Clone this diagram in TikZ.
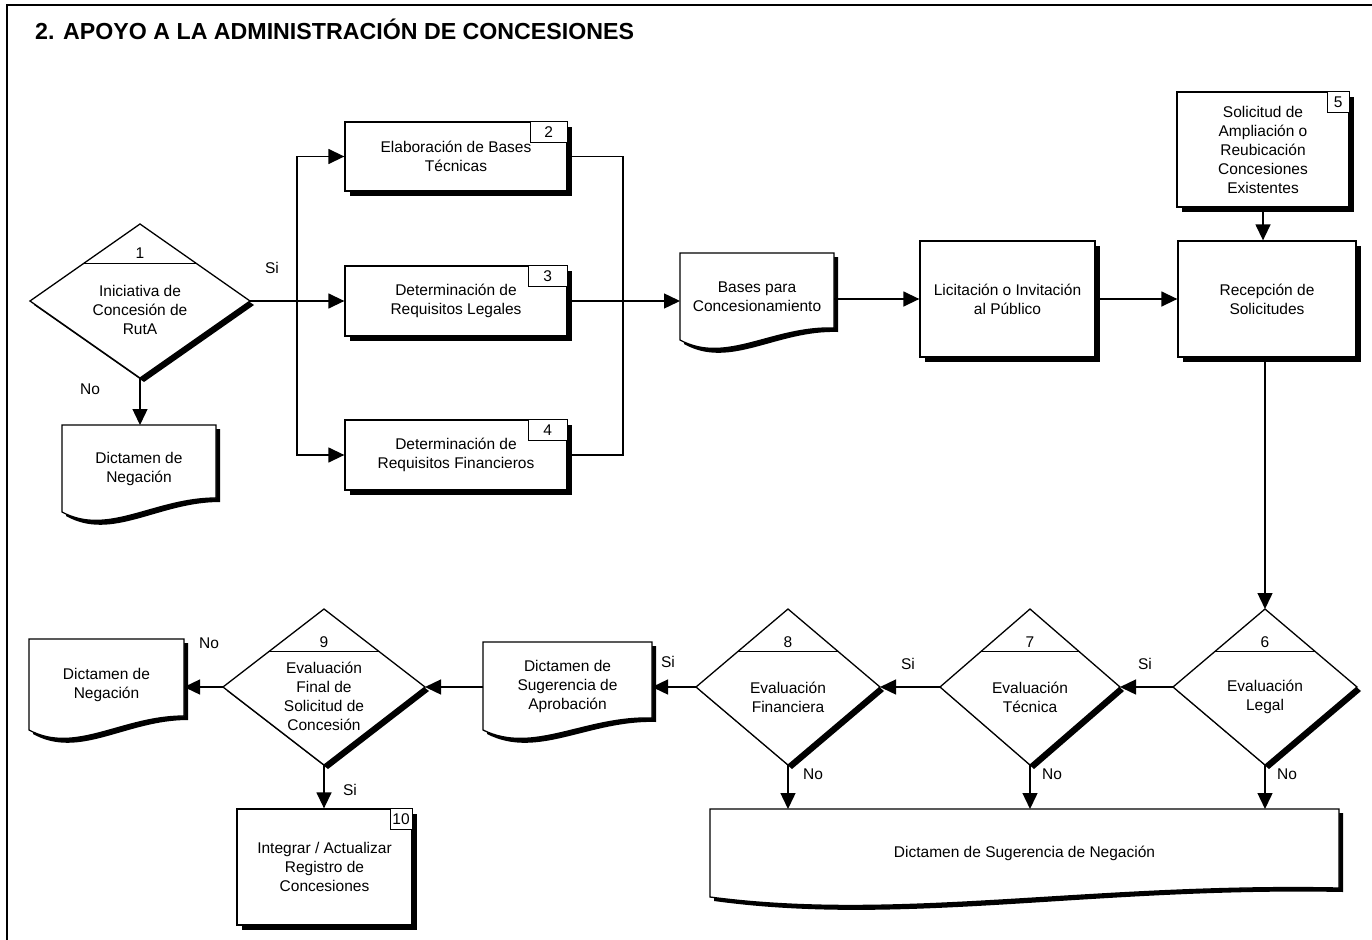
\documentclass[tikz,border=0pt]{standalone}
\usepackage{fontspec}
\setmainfont{Liberation Sans}
\usetikzlibrary{shapes.geometric,arrows.meta,calc,shadows,backgrounds}

\newcommand\bodyfont{\fontsize{15.5}{19}\selectfont}

\tikzset{
  conn/.style={line width=1.4pt},
  arr/.style={conn, -{Triangle[length=16pt,width=15pt]}},
  procbox/.style={draw, line width=1.3pt, fill=white, rectangle, inner sep=2pt,
    align=center, font=\bodyfont,
    drop shadow={shadow xshift=5pt, shadow yshift=-5pt, fill=black, opacity=1}},
  numbox/.style={draw, line width=1.1pt, fill=white, anchor=north east,
    minimum height=21pt, inner sep=0pt, font=\bodyfont},
  decision/.style={draw, diamond, line width=1.3pt, fill=white, inner sep=0pt, outer sep=0pt,
    drop shadow={shadow xshift=4pt, shadow yshift=-4pt, fill=black, opacity=1}},
  doc/.style={rectangle, inner sep=0pt, outer sep=0pt, align=center, font=\bodyfont},
  lbl/.style={font=\bodyfont, inner sep=0pt, align=center},
}

% document symbol: wavy lower edge, black shadow, drawn behind its text
\newcommand\docshape[2]{%
  \begin{pgfonlayer}{background}
  \fill[black] ($(#1.south west)+(4,-4)$)
    .. controls ($(#1.south west)!0.3!(#1.south east)+(4,-30)$)
    and ($(#1.south west)!0.6!(#1.south east)+(4,10)$)
    .. ($(#1.south east)+(4,#2-4)$) -- ($(#1.north east)+(4,-4)$)
    -- ($(#1.north west)+(4,-4)$) -- cycle;
  \draw[line width=1.3pt, fill=white] (#1.south west)
    .. controls ($(#1.south west)!0.3!(#1.south east)+(0,-25)$)
    and ($(#1.south west)!0.6!(#1.south east)+(0,14)$)
    .. ($(#1.south east)+(0,#2)$) -- (#1.north east) -- (#1.north west) -- cycle;
  \end{pgfonlayer}}

% separator line under the step number of a decision
\newcommand\decline[2]{%
  \draw[line width=1.1pt] ($(#1.north)!#2!(#1.west)$) -- ($(#1.north)!#2!(#1.east)$);}

\begin{document}
\begin{tikzpicture}[x=1pt,y=1pt]
\useasboundingbox (0,0) rectangle (1372,-939);

% frame
\draw[line width=2pt] (7,-945) -- (7,-5) -- (1380,-5);

\node[anchor=base west, inner sep=0pt, font=\bfseries\fontsize{23.2}{27}\selectfont] (title) at (35,-40)
  {2. APOYO A LA ADMINISTRACIÓN DE CONCESIONES};

% ---- upper part ----
\node[decision, minimum width=220pt, minimum height=154pt] (d1) at (140,-301) {};
\decline{d1}{0.51}
\node[lbl] (k1) at (140,-253) {1};
\node[lbl] (t1) at (140,-310) {Iniciativa de\\Concesión de\\RutA};

\node[procbox, minimum width=222pt, minimum height=69pt] (box2) at (456,-156.5) {Elaboración de Bases\\Técnicas};
\node[numbox, minimum width=37pt] (n2) at (box2.north east) {2};
\node[procbox, minimum width=222pt, minimum height=70pt] (box3) at (456,-301) {Determinación de\\Requisitos Legales};
\node[numbox, minimum width=39pt] (n3) at (box3.north east) {3};
\node[procbox, minimum width=222pt, minimum height=70pt] (box4) at (456,-455) {Determinación de\\Requisitos Financieros};
\node[numbox, minimum width=39pt] (n4) at (box4.north east) {4};

\node[doc, minimum width=154pt, minimum height=87pt] (neg1) at (139,-468.5) {Dictamen de\\Negación};
\docshape{neg1}{14}
\node[doc, minimum width=154pt, minimum height=87pt] (bases) at (757,-296.5) {Bases para\\Concesionamiento};
\docshape{bases}{12}

\node[procbox, minimum width=175pt, minimum height=116pt] (lic) at (1007.5,-299) {Licitación o Invitación\\al Público};
\node[procbox, minimum width=178pt, minimum height=116pt] (rec) at (1267,-299) {Recepción de\\Solicitudes};
\node[procbox, minimum width=172pt, minimum height=115pt] (box5) at (1263,-149.5)
  {Solicitud de\\Ampliación o\\Reubicación\\Concesiones\\Existentes};
\node[numbox, minimum width=22pt] (n5) at (box5.north east) {5};

% ---- lower part ----
\node[decision, minimum width=184pt, minimum height=156pt] (d6) at (1265,-687) {};
\decline{d6}{0.54}
\node[lbl] (k6) at (1265,-642) {6};
\node[lbl] (t6) at (1265,-697) {Evaluación\\Legal};

\node[decision, minimum width=180pt, minimum height=156pt] (d7) at (1030,-687) {};
\decline{d7}{0.54}
\node[lbl] (k7) at (1030,-642) {7};
\node[lbl] (t7) at (1030,-697) {Evaluación\\Técnica};

\node[decision, minimum width=184pt, minimum height=156pt] (d8) at (788,-687) {};
\decline{d8}{0.54}
\node[lbl] (k8) at (788,-642) {8};
\node[lbl] (t8) at (788,-697) {Evaluación\\Financiera};

\node[doc, minimum width=169pt, minimum height=88pt] (aprob) at (567.5,-686) {Dictamen de\\Sugerencia de\\Aprobación};
\docshape{aprob}{12}

\node[decision, minimum width=202pt, minimum height=156pt] (d9) at (324,-687) {};
\decline{d9}{0.55}
\node[lbl] (k9) at (324,-642) {9};
\node[lbl] (t9) at (324,-696) {Evaluación\\Final de\\Solicitud de\\Concesión};

\node[doc, minimum width=155pt, minimum height=91pt] (neg2) at (106.5,-684.5) {Dictamen de\\Negación};
\docshape{neg2}{14}

\node[procbox, minimum width=175pt, minimum height=116pt] (box10) at (324.5,-867) {Integrar / Actualizar\\Registro de\\Concesiones};
\node[numbox, minimum width=22pt] (n10) at (box10.north east) {10};

\node[doc, minimum width=629pt, minimum height=88pt] (big) at (1024.5,-853) {Dictamen de Sugerencia de Negación};
\docshape{big}{9}

% ---- connectors ----
\coordinate (j1) at (297,-301);
\draw[conn] (d1.east) -- (j1);
\draw[arr] (j1) -- (box3.west);
\draw[arr] (j1) |- (box2.west);
\draw[arr] (j1) |- (box4.west);
\draw[arr] (d1.south) -- (d1.south |- neg1.north);

\coordinate (j2) at (623,-301);
\draw[conn] (box2.east) -| (j2);
\draw[conn] (box4.east) -| (j2);
\draw[conn] (box3.east) -- (j2);
\draw[arr] (j2) -- (j2 -| bases.west);
\draw[arr] (lic.west -| bases.east) -- (lic.west);
\draw[arr] (lic.east) -- (rec.west);
\draw[arr] (box5.south) -- (box5.south |- rec.north);
\draw[arr] (rec.south -| d6.north) -- (d6.north);

\draw[arr] (d6.west) -- (d7.east);
\draw[arr] (d7.west) -- (d8.east);
\draw[arr] (d8.west) -- (aprob.east |- d8.west);
\draw[arr] (aprob.west |- d9.east) -- (d9.east);
\draw[arr] (d9.west) -- (neg2.east |- d9.west);
\draw[arr] (d9.south) -- (d9.south |- box10.north);
\draw[arr] (d6.south) -- (d6.south |- big.north);
\draw[arr] (d7.south) -- (d7.south |- big.north);
\draw[arr] (d8.south) -- (d8.south |- big.north);

% ---- branch labels ----
\node[lbl] (l1) at (272,-268) {Si};
\node[lbl] (l2) at (90,-389) {No};
\node[lbl] (l3) at (1145,-664) {Si};
\node[lbl] (l4) at (908,-664) {Si};
\node[lbl] (l5) at (668,-662) {Si};
\node[lbl] (l6) at (209,-643) {No};
\node[lbl] (l7) at (350,-790) {Si};
\node[lbl] (l8) at (1287,-774) {No};
\node[lbl] (l9) at (1052,-774) {No};
\node[lbl] (l10) at (813,-774) {No};
\end{tikzpicture}
\end{document}
